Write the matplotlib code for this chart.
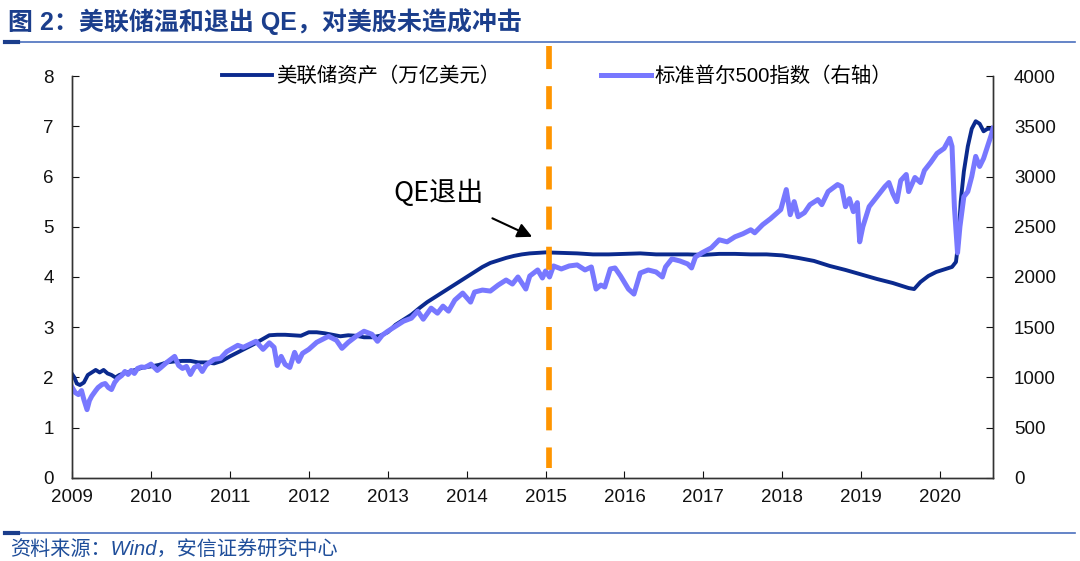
import matplotlib
matplotlib.use("Agg")
import matplotlib.pyplot as plt
from matplotlib.lines import Line2D

plt.rcParams['font.family'] = ['Liberation Sans', 'Noto Sans CJK SC', 'DejaVu Sans']

# 美联储资产（万亿美元）, 时间为小数年份
fed_t = [2009.00, 2009.03, 2009.06, 2009.10, 2009.15, 2009.20, 2009.25, 2009.30, 2009.35,
         2009.40, 2009.45, 2009.50, 2009.55, 2009.60, 2009.70, 2009.80, 2009.90, 2010.00,
         2010.10, 2010.20, 2010.30, 2010.40, 2010.50, 2010.60, 2010.70, 2010.80, 2010.90,
         2011.00, 2011.10, 2011.20, 2011.30, 2011.40, 2011.50, 2011.60, 2011.70, 2011.80,
         2011.90, 2012.00, 2012.10, 2012.20, 2012.30, 2012.40, 2012.50, 2012.60, 2012.70,
         2012.80, 2012.90, 2013.00, 2013.10, 2013.20, 2013.30, 2013.40, 2013.50, 2013.60,
         2013.70, 2013.80, 2013.90, 2014.00, 2014.10, 2014.20, 2014.30, 2014.40, 2014.50,
         2014.60, 2014.70, 2014.80, 2014.90, 2015.00, 2015.20, 2015.40, 2015.60, 2015.80,
         2016.00, 2016.20, 2016.40, 2016.60, 2016.80, 2017.00, 2017.20, 2017.40, 2017.60,
         2017.80, 2018.00, 2018.20, 2018.40, 2018.60, 2018.80, 2019.00, 2019.20, 2019.40,
         2019.60, 2019.67, 2019.75, 2019.85, 2019.95, 2020.05, 2020.15, 2020.20, 2020.23,
         2020.26, 2020.30, 2020.35, 2020.40, 2020.45, 2020.50, 2020.55, 2020.60, 2020.67]
fed_v = [2.07, 2.00, 1.88, 1.85, 1.90, 2.05, 2.10, 2.15, 2.10,
         2.15, 2.08, 2.05, 2.00, 2.05, 2.10, 2.15, 2.20, 2.22,
         2.25, 2.30, 2.32, 2.33, 2.33, 2.30, 2.30, 2.28, 2.33,
         2.42, 2.50, 2.58, 2.66, 2.75, 2.84, 2.85, 2.85, 2.84,
         2.83, 2.90, 2.90, 2.88, 2.85, 2.82, 2.84, 2.83, 2.80,
         2.80, 2.83, 2.90, 3.05, 3.15, 3.25, 3.38, 3.50, 3.60,
         3.70, 3.80, 3.90, 4.00, 4.10, 4.20, 4.28, 4.33, 4.38,
         4.42, 4.45, 4.47, 4.48, 4.49, 4.48, 4.47, 4.45, 4.45,
         4.46, 4.47, 4.45, 4.45, 4.45, 4.44, 4.46, 4.46, 4.45,
         4.45, 4.43, 4.38, 4.32, 4.22, 4.14, 4.05, 3.96, 3.88,
         3.78, 3.76, 3.90, 4.02, 4.10, 4.15, 4.20, 4.30, 4.70,
         5.50, 6.10, 6.60, 6.95, 7.10, 7.05, 6.90, 6.95, 6.95]

# 标准普尔500指数（右轴）
spx_t = [2009.00, 2009.04, 2009.08, 2009.12, 2009.15, 2009.19, 2009.22, 2009.25, 2009.30,
         2009.33, 2009.38, 2009.42, 2009.46, 2009.50, 2009.54, 2009.58, 2009.63, 2009.67,
         2009.71, 2009.75, 2009.79, 2009.83, 2009.88, 2009.92, 2009.96, 2010.00, 2010.08,
         2010.12, 2010.20, 2010.30, 2010.35, 2010.40, 2010.45, 2010.50, 2010.55, 2010.60,
         2010.65, 2010.70, 2010.80, 2010.88, 2010.96, 2011.10, 2011.17, 2011.25, 2011.33,
         2011.42, 2011.50, 2011.56, 2011.60, 2011.65, 2011.70, 2011.76, 2011.82, 2011.87,
         2011.92, 2012.00, 2012.10, 2012.25, 2012.35, 2012.42, 2012.50, 2012.60, 2012.70,
         2012.80, 2012.87, 2012.93, 2013.00, 2013.10, 2013.20, 2013.30, 2013.38, 2013.45,
         2013.55, 2013.63, 2013.70, 2013.77, 2013.85, 2013.95, 2014.05, 2014.10, 2014.20,
         2014.30, 2014.40, 2014.50, 2014.58, 2014.65, 2014.75, 2014.80, 2014.90, 2014.96,
         2015.00, 2015.05, 2015.10, 2015.20, 2015.30, 2015.40, 2015.50, 2015.58, 2015.64,
         2015.70, 2015.75, 2015.82, 2015.88, 2015.95, 2016.05, 2016.12, 2016.20, 2016.30,
         2016.40, 2016.48, 2016.52, 2016.60, 2016.70, 2016.80, 2016.85, 2016.90, 2016.98,
         2017.10, 2017.20, 2017.30, 2017.40, 2017.50, 2017.60, 2017.65, 2017.75, 2017.85,
         2017.98, 2018.05, 2018.10, 2018.15, 2018.20, 2018.28, 2018.35, 2018.45, 2018.50,
         2018.58, 2018.70, 2018.75, 2018.80, 2018.85, 2018.90, 2018.95, 2018.98, 2019.02,
         2019.10, 2019.20, 2019.30, 2019.35, 2019.40, 2019.45, 2019.50, 2019.57, 2019.60,
         2019.68, 2019.75, 2019.80, 2019.88, 2019.96, 2020.05, 2020.12, 2020.15, 2020.18,
         2020.22, 2020.25, 2020.30, 2020.35, 2020.40, 2020.45, 2020.50, 2020.55, 2020.60,
         2020.65, 2020.67]
spx_v = [903, 850, 830, 870, 780, 680, 770, 815, 870,
         900, 930, 940, 900, 880, 950, 990, 1020, 1060,
         1030, 1070, 1040, 1090, 1105, 1100, 1115, 1133, 1070,
         1095, 1150, 1210, 1120, 1090, 1110, 1030, 1100, 1120,
         1060, 1125, 1180, 1190, 1257, 1320, 1300, 1330, 1360,
         1280, 1345, 1300, 1120, 1210, 1130, 1100, 1250, 1160,
         1240, 1280, 1350, 1410, 1370, 1290, 1350, 1410, 1460,
         1430, 1360, 1420, 1460, 1510, 1560, 1590, 1660, 1580,
         1690, 1640, 1710, 1660, 1770, 1840, 1750, 1850, 1870,
         1860, 1920, 1970, 1930, 2000, 1880, 2010, 2070, 1990,
         2060, 2000, 2110, 2080, 2110, 2120, 2070, 2100, 1880,
         1920, 1900, 2080, 2090, 2010, 1880, 1830, 2040, 2070,
         2050, 2000, 2100, 2180, 2160, 2130, 2090, 2200, 2240,
         2290, 2370, 2350, 2400, 2430, 2470, 2440, 2520, 2580,
         2670, 2870, 2620, 2750, 2600, 2640, 2720, 2770, 2720,
         2850, 2920, 2900, 2700, 2780, 2650, 2740, 2350, 2500,
         2700, 2800, 2900, 2940, 2830, 2750, 2960, 3020, 2850,
         2990, 2940, 3060, 3140, 3230, 3280, 3380, 3300, 2700,
         2240, 2500, 2800, 2850, 3000, 3200, 3100, 3180, 3300,
         3420, 3480]

years = list(range(2009, 2021))
left_ticks = [0, 1, 2, 3, 4, 5, 6, 7, 8]
right_ticks = [0, 500, 1000, 1500, 2000, 2500, 3000, 3500, 4000]
qe_exit = 2015.04

dark = '#0B2A8E'
light = '#7878FF'
orange = '#FF9500'

fig = plt.figure(figsize=(10.8, 5.61), dpi=100)
ax = fig.add_axes([0.0667, 0.148, 0.8528, 0.7165])
ax2 = ax.twinx()

l1, = ax.plot(fed_t, fed_v, color=dark, lw=2.8, label='美联储资产（万亿美元）')
l2, = ax2.plot(spx_t, spx_v, color=light, lw=3.6, label='标准普尔500指数（右轴）')

ax.set_xlim(2009, 2020.67)
ax.set_ylim(0, 8)
ax2.set_ylim(0, 4000)
ax.set_xticks(years)
ax.set_xticklabels([str(y) for y in years])
ax.set_yticks(left_ticks)
ax2.set_yticks(right_ticks)

for a in (ax, ax2):
    a.spines['top'].set_visible(False)
    for s in a.spines.values():
        s.set_color('#333333')
        s.set_linewidth(1.0)
ax.tick_params(axis='both', direction='in', length=5, labelsize=13.5, colors='#111111')
ax.tick_params(axis='x', pad=8)
ax.tick_params(axis='y', pad=13)
ax2.tick_params(axis='y', direction='in', length=5, labelsize=13.5, pad=15, colors='#111111')

# QE 退出竖线（画在右轴上，位于两条线之上）
ax2.plot([qe_exit, qe_exit], [4300, 100], color=orange, lw=4.1, ls=(0, (4.05, 3.0)),
         clip_on=False, zorder=5)

ax.annotate('QE退出', xy=(2014.83, 4.8), xytext=(2013.64, 5.67),
            fontsize=19.5, ha='center', va='center', family=['Noto Sans CJK SC'],
            arrowprops=dict(arrowstyle='-|>', color='black', lw=1.5,
                            mutation_scale=22, shrinkA=15, shrinkB=0))

ax2.legend(handles=[l1, l2], loc='center', bbox_to_anchor=(0.527, 1.0), ncol=2,
           frameon=False, fontsize=14.7, handlelength=2.45, columnspacing=4.9,
           handletextpad=0.2)

# 标题和来源
fig.text(0.007, 0.961, '图 2：美联储温和退出 QE，对美股未造成冲击', fontsize=18,
         fontweight='bold', color='#1B3E8C', va='center', ha='left')
fig.add_artist(Line2D([0.005, 0.995], [0.925, 0.925], color='#4A6FBE', lw=1.2))
fig.add_artist(Line2D([0.005, 0.017], [0.925, 0.925], color='#1B3E8C', lw=3))
fig.add_artist(Line2D([0.005, 0.995], [0.05, 0.05], color='#4A6FBE', lw=1.2))
fig.add_artist(Line2D([0.005, 0.017], [0.05, 0.05], color='#1B3E8C', lw=3))
fig.text(0.009, 0.0214, '资料来源：Wind，安信证券研究中心', fontsize=14.5,
         style='italic', color='#1F4E9A', va='center', ha='left')

fig.savefig('out.png', dpi=100)
